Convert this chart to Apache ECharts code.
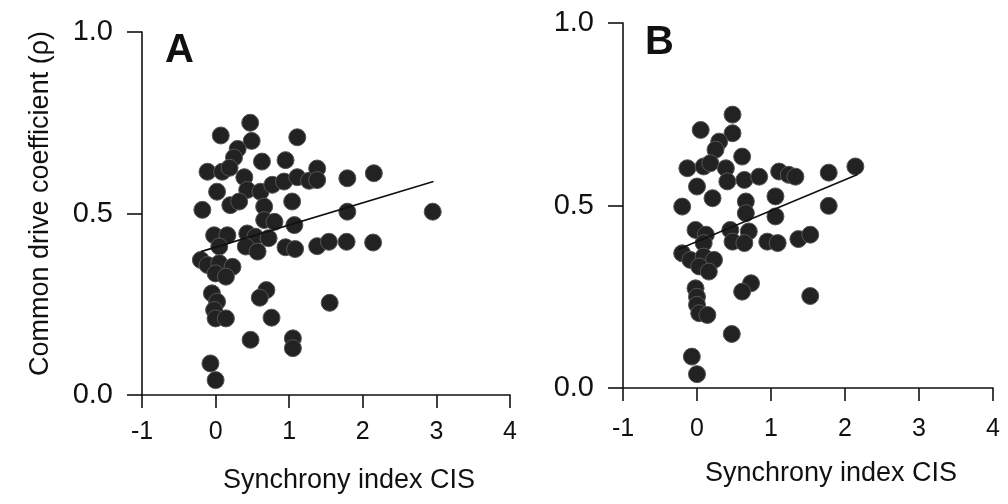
<!DOCTYPE html>
<html>
<head>
<meta charset="utf-8">
<script src="https://cdn.jsdelivr.net/npm/echarts@6/dist/echarts.min.js"></script>
<style>
  html, body { margin: 0; padding: 0; background: #fff; }
  #chart { width: 1008px; height: 504px; }
</style>
</head>
<body>
<div id="chart"></div>
<script>
// panel A: all pairs
const aSync = [0.47, 0.07, 1.11, 0.49, 0.30, 0.25, 0.63, 0.95, -0.11, 0.09, 0.19, 0.39, 0.43, 0.61, 0.77, 0.93,
  1.11, 1.27, 1.38, 1.38, 1.79, 2.15, 0.02, 0.20, 0.32, -0.18, 1.04, 0.66, 0.66, 0.80, 1.07, 1.79, 2.95,
  -0.02, 0.16, 0.43, 0.54, 0.72, 0.95, 1.08, 0.05, 0.41, 0.57, 1.38, 1.54, 1.78, 2.14,
  -0.20, -0.11, 0.05, 0.23, 0.00, 0.14, -0.05, 0.02, -0.02, 0.00, 0.14, 0.69, 0.60, 0.76, 1.55,
  0.475, 1.05, 1.05, -0.07, 0.00];
const aCoef = [0.75, 0.715, 0.71, 0.70, 0.678, 0.654, 0.643, 0.647, 0.615, 0.615, 0.626, 0.60, 0.565, 0.56, 0.579, 0.588,
  0.60, 0.59, 0.624, 0.592, 0.597, 0.611, 0.56, 0.523, 0.533, 0.51, 0.533, 0.519, 0.482, 0.477, 0.468, 0.505, 0.505,
  0.44, 0.44, 0.445, 0.436, 0.432, 0.407, 0.402, 0.409, 0.409, 0.395, 0.41, 0.422, 0.422, 0.42,
  0.372, 0.358, 0.363, 0.353, 0.335, 0.326, 0.28, 0.257, 0.234, 0.211, 0.211, 0.289, 0.268, 0.213, 0.254,
  0.152, 0.156, 0.129, 0.087, 0.041];

// panel B: subset
const bSync = [0.48, 0.05, 0.48, 0.30, 0.25, 0.61, -0.13, 0.09, 0.18, 0.39, 0.41, 0.64, 0.84, 1.11, 1.24,
  0.00, 0.21, -0.20, 1.06, 0.66, 0.66, 1.06, -0.02, 0.12, 0.45, 0.70, 0.48, 0.64, 0.95, 1.09, 0.09,
  -0.20, -0.09, 0.09, 0.23, 0.03, 0.16, -0.02, 0.00, 0.00, 0.03, 0.14, 0.73, 0.61,
  1.78, 2.14, 1.78, 1.37, 1.53, 1.53, 0.47, -0.07, 0.00, 1.33];
const bCoef = [0.749, 0.707, 0.698, 0.675, 0.653, 0.634, 0.602, 0.607, 0.616, 0.602, 0.566, 0.57, 0.579, 0.593, 0.584,
  0.552, 0.52, 0.497, 0.525, 0.511, 0.479, 0.47, 0.433, 0.42, 0.433, 0.429, 0.401, 0.397, 0.401, 0.397, 0.397,
  0.369, 0.351, 0.36, 0.351, 0.333, 0.319, 0.273, 0.25, 0.228, 0.205, 0.20, 0.287, 0.264,
  0.59, 0.607, 0.499, 0.408, 0.42, 0.252, 0.148, 0.086, 0.038, 0.579];

// regression line end points
const fitAX = [-0.2, 2.96];
const fitAY = [0.395, 0.588];
const fitBX = [-0.25, 2.17];
const fitBY = [0.38, 0.585];

const xTicks = [-1, 0, 1, 2, 3, 4];
const yTicks = [0, 0.5, 1];
const panelNames = ['A', 'B'];
const xTitle = 'Synchrony index CIS';
const yTitle = 'Common drive coefficient (ρ)';

const font = '"Liberation Sans", Arial, Helvetica, sans-serif';
const ink = '#111';

const chart = echarts.init(document.getElementById('chart'));

function pairs(xs, ys) {
  return xs.map((x, i) => [x, ys[i]]);
}

function xAxisOf(gridIndex, margin) {
  return {
    type: 'value',
    gridIndex,
    min: xTicks[0],
    max: xTicks[xTicks.length - 1],
    interval: 1,
    name: xTitle,
    nameLocation: 'middle',
    nameGap: 72,
    nameTextStyle: { fontFamily: font, fontSize: 27, color: ink, padding: [0, 0, 0, 46] },
    axisLine: { onZero: false, lineStyle: { color: ink, width: 1.6 } },
    axisTick: { length: 13, lineStyle: { color: ink, width: 1.6 } },
    axisLabel: { fontFamily: font, fontSize: 25, color: ink, margin },
    splitLine: { show: false },
  };
}

function yAxisOf(gridIndex, withName) {
  return {
    type: 'value',
    gridIndex,
    min: yTicks[0],
    max: yTicks[yTicks.length - 1],
    interval: 0.5,
    name: withName ? yTitle : '',
    nameLocation: 'middle',
    nameGap: 88,
    nameTextStyle: { fontFamily: font, fontSize: 27, color: ink, padding: [0, 0, 0, 20] },
    axisLine: { onZero: false, lineStyle: { color: ink, width: 1.6 } },
    axisTick: { length: 15, lineStyle: { color: ink, width: 1.6 } },
    axisLabel: {
      fontFamily: font, fontSize: 29, color: ink, margin: 29,
      formatter: (v) => v.toFixed(1),
    },
    splitLine: { show: false },
  };
}

const dotStyle = {
  type: 'scatter',
  symbol: 'circle',
  symbolSize: 17,
  itemStyle: { color: '#222', opacity: 1, borderColor: '#555', borderWidth: 1 },
  silent: true,
};

const fitStyle = {
  type: 'line',
  showSymbol: false,
  symbol: 'none',
  lineStyle: { color: '#111', width: 1.6 },
  silent: true,
  z: 3,
};

chart.setOption({
  animation: false,
  backgroundColor: '#fff',
  title: [
    { text: panelNames[0], left: 165, top: 31, padding: 0,
      textStyle: { fontFamily: font, fontSize: 40, fontWeight: 'bold', color: ink } },
    { text: panelNames[1], left: 645, top: 23, padding: 0,
      textStyle: { fontFamily: font, fontSize: 40, fontWeight: 'bold', color: ink } },
  ],
  grid: [
    { left: 142, top: 32, width: 368, height: 363, outerBoundsMode: 'none' },
    { left: 623, top: 23, width: 370, height: 365, outerBoundsMode: 'none' },
  ],
  xAxis: [xAxisOf(0, 25), xAxisOf(1, 29)],
  yAxis: [yAxisOf(0, true), yAxisOf(1, false)],
  series: [
    { ...dotStyle, xAxisIndex: 0, yAxisIndex: 0, data: pairs(aSync, aCoef) },
    { ...fitStyle, xAxisIndex: 0, yAxisIndex: 0, data: pairs(fitAX, fitAY) },
    { ...dotStyle, xAxisIndex: 1, yAxisIndex: 1, data: pairs(bSync, bCoef) },
    { ...fitStyle, xAxisIndex: 1, yAxisIndex: 1, data: pairs(fitBX, fitBY) },
  ],
});
</script>
</body>
</html>
